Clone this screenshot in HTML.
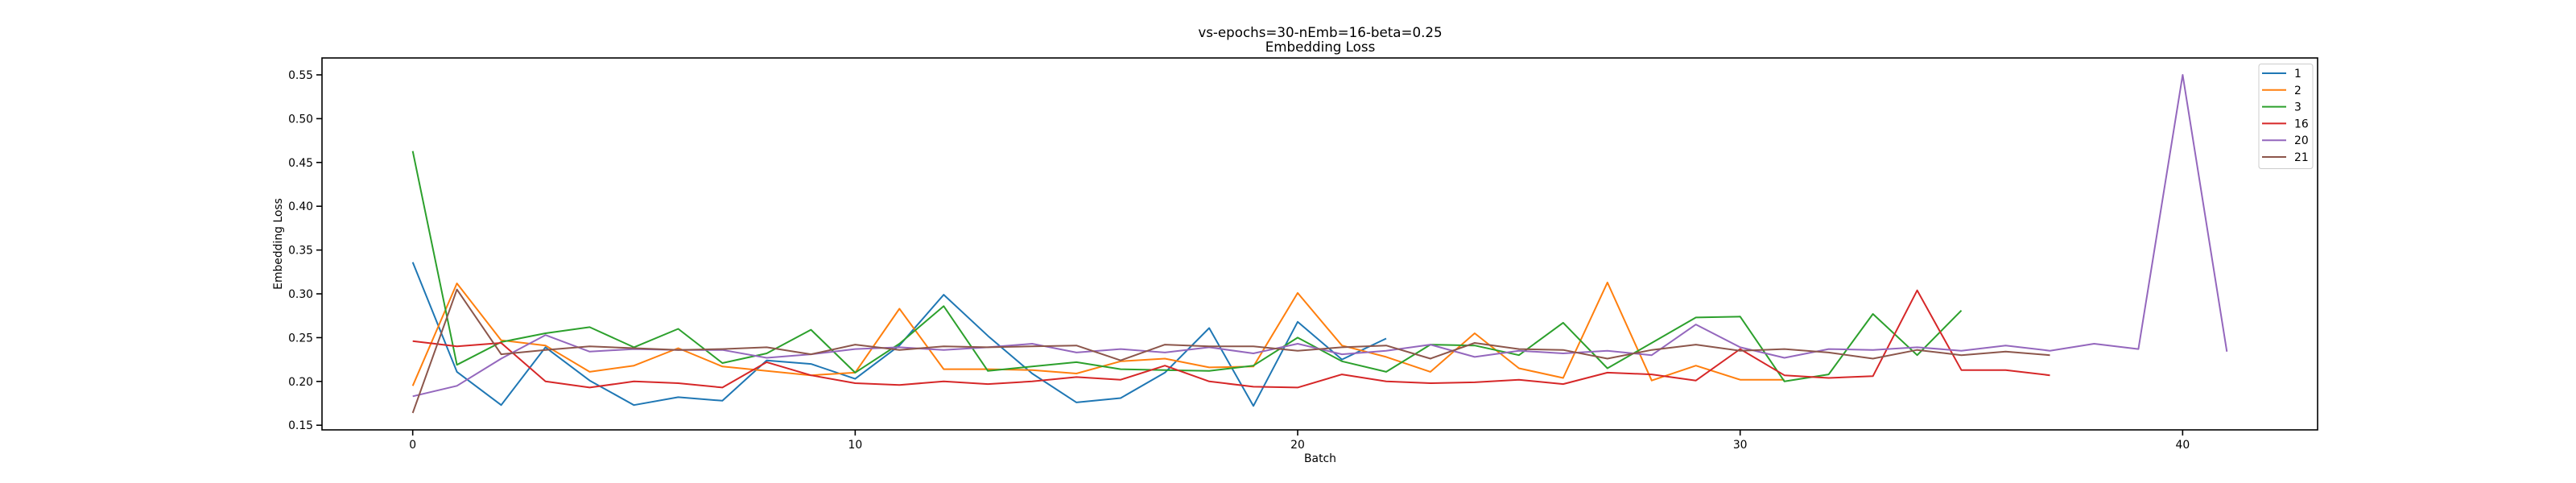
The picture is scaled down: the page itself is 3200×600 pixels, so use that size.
<!DOCTYPE html>
<html><head><meta charset="utf-8"><style>
html,body{margin:0;padding:0;background:#fff;}
svg{display:block;font-family:"DejaVu Sans","Liberation Sans",sans-serif;}
</style></head><body>
<svg id="chart" width="3200" height="600" viewBox="0 0 3200 600" xmlns="http://www.w3.org/2000/svg">
<rect width="3200" height="600" fill="#fff"/>
<text x="1640" y="46" font-size="16.7" text-anchor="middle" fill="#000">vs-epochs=30-nEmb=16-beta=0.25</text>
<text x="1640" y="64" font-size="16.7" text-anchor="middle" fill="#000">Embedding Loss</text>
<g id="plot"></g>
<text x="1640" y="574" font-size="13.9" text-anchor="middle" fill="#000">Batch</text>
<text transform="translate(350,303) rotate(-90)" font-size="13.9" text-anchor="middle" fill="#000">Embedding Loss</text>
</svg>
<script>
const seriesNames = ["1","2","3","16","20","21"];
const seriesColors = ["#1f77b4","#ff7f0e","#2ca02c","#d62728","#9467bd","#8c564b"];
const s1 = [0.336,0.211,0.173,0.239,0.201,0.173,0.182,0.178,0.224,0.220,0.203,0.241,0.299,0.252,0.209,0.176,0.181,0.210,0.261,0.172,0.268,0.225,0.249];
const s2 = [0.195,0.312,0.247,0.241,0.211,0.218,0.238,0.217,0.212,0.207,0.210,0.283,0.214,0.214,0.213,0.209,0.223,0.226,0.216,0.217,0.301,0.241,0.228,0.211,0.255,0.215,0.204,0.313,0.201,0.218,0.202,0.202];
const s3 = [0.463,0.219,0.245,0.255,0.262,0.239,0.260,0.221,0.232,0.259,0.210,0.243,0.286,0.212,0.217,0.222,0.214,0.213,0.212,0.218,0.250,0.223,0.211,0.242,0.241,0.230,0.267,0.215,0.244,0.273,0.274,0.200,0.208,0.277,0.230,0.281];
const s16 = [0.246,0.240,0.244,0.200,0.193,0.200,0.198,0.193,0.222,0.207,0.198,0.196,0.200,0.197,0.200,0.205,0.202,0.218,0.200,0.194,0.193,0.208,0.200,0.198,0.199,0.202,0.197,0.210,0.208,0.201,0.237,0.207,0.204,0.206,0.304,0.213,0.213,0.207];
const s20 = [0.183,0.195,0.226,0.253,0.234,0.237,0.236,0.236,0.227,0.231,0.237,0.239,0.236,0.239,0.243,0.233,0.237,0.233,0.239,0.232,0.243,0.231,0.235,0.242,0.228,0.235,0.232,0.235,0.230,0.265,0.239,0.227,0.237,0.236,0.239,0.235,0.241,0.235,0.243,0.237,0.550,0.234];
const s21 = [0.164,0.305,0.231,0.236,0.240,0.238,0.236,0.237,0.239,0.231,0.242,0.236,0.240,0.239,0.240,0.241,0.224,0.242,0.240,0.240,0.235,0.239,0.241,0.226,0.244,0.237,0.236,0.226,0.236,0.242,0.235,0.237,0.233,0.226,0.236,0.230,0.234,0.230];
const xTicks = [0,10,20,30,40];
const yTicks = [0.15,0.20,0.25,0.30,0.35,0.40,0.45,0.50,0.55];
const allSeries = [s1,s2,s3,s16,s20,s21];

const NS = "http://www.w3.org/2000/svg";
const L = 400, R = 2879, T = 72, B = 534;
let maxN = 0, vmin = Infinity, vmax = -Infinity;
allSeries.forEach(s => { maxN = Math.max(maxN, s.length - 1); s.forEach(v => { vmin = Math.min(vmin, v); vmax = Math.max(vmax, v); }); });
const xPad = maxN * 0.05, yPad = (vmax - vmin) * 0.05;
const x0 = -xPad, x1 = maxN + xPad, y0 = vmin - yPad, y1 = vmax + yPad;
function xs(i) { return L + (i - x0) / (x1 - x0) * (R - L); }
function ys(v) { return B - (v - y0) / (y1 - y0) * (B - T); }
const g = document.getElementById("plot");
function mk(tag, attrs) { const e = document.createElementNS(NS, tag); for (const k in attrs) e.setAttribute(k, attrs[k]); return e; }

allSeries.forEach((s, k) => {
  const p = mk("polyline", {points: s.map((v, i) => xs(i).toFixed(1) + "," + ys(v).toFixed(1)).join(" "), fill: "none", stroke: seriesColors[k], "stroke-width": "2", "stroke-linejoin": "round"});
  
  
  g.appendChild(p);
});

const frame = mk("rect", {x: L, y: T, width: R - L, height: B - T, fill: "none", stroke: "#000", "stroke-width": "1.6"});


g.appendChild(frame);

xTicks.forEach(t => {
  const x = xs(t);
  const tk = mk("line", {x1: x, x2: x, y1: B, y2: B + 7, stroke: "#000", "stroke-width": "1.6"});
  
  
  g.appendChild(tk);
  const tx = mk("text", {x: x, y: B + 23, "font-size": "13.9", "text-anchor": "middle", fill: "#000"});
  tx.textContent = t;
  
  
  g.appendChild(tx);
});
yTicks.forEach(t => {
  const y = ys(t);
  const tk = mk("line", {x1: L - 7, x2: L, y1: y, y2: y, stroke: "#000", "stroke-width": "1.6"});
  
  
  g.appendChild(tk);
  const tx = mk("text", {x: L - 11, y: y + 5, "font-size": "13.9", "text-anchor": "end", fill: "#000"});
  tx.textContent = t.toFixed(2);
  
  
  g.appendChild(tx);
});

const leg = mk("g", {});


g.appendChild(leg);
const box = mk("rect", {x: 2806, y: 79.5, width: 67, height: 130, rx: 3, fill: "#fff", "fill-opacity": "0.8", stroke: "#ccc", "stroke-width": "1"});


leg.appendChild(box);
seriesNames.forEach((n, k) => {
  const y = 91 + k * 20.8;
  const ln = mk("line", {x1: 2810, x2: 2840, y1: y, y2: y, stroke: seriesColors[k], "stroke-width": "2"});
  
  
  leg.appendChild(ln);
  const tx = mk("text", {x: 2850, y: y + 5, "font-size": "13.9", fill: "#000"});
  tx.textContent = n;
  
  
  leg.appendChild(tx);
});
</script>
</body></html>
